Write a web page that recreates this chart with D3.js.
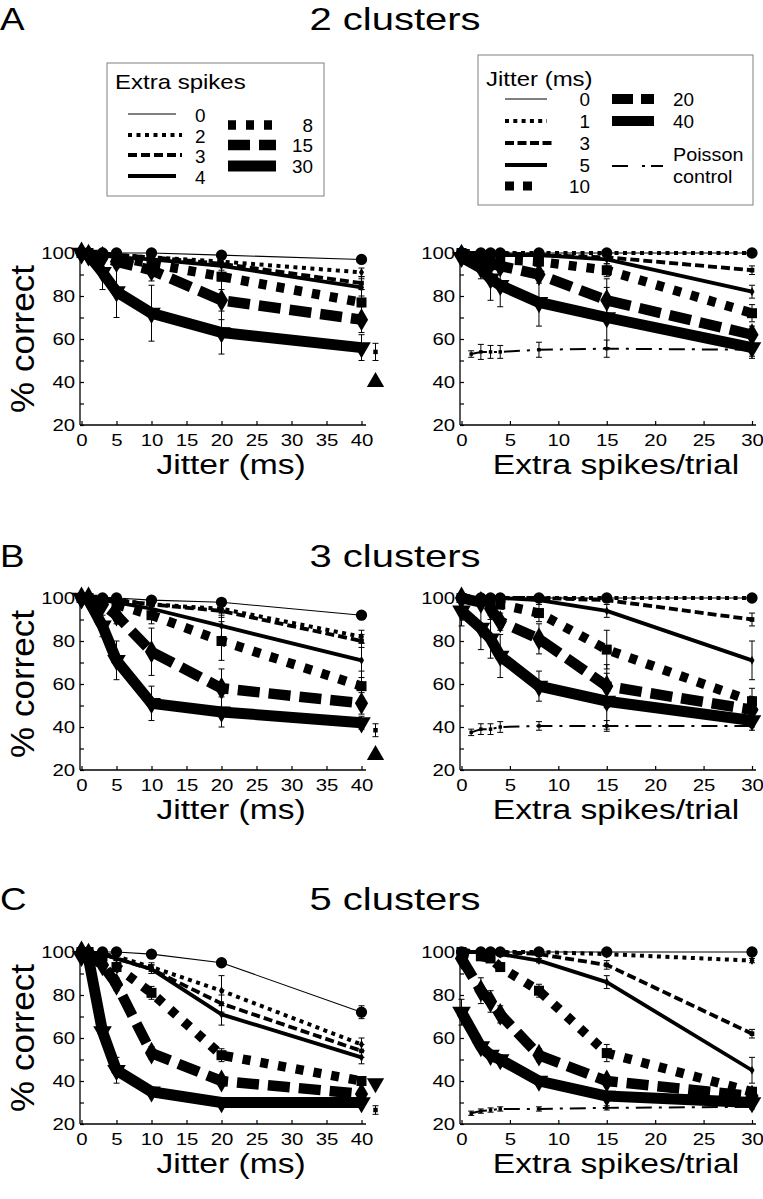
<!DOCTYPE html>
<html><head><meta charset="utf-8">
<script src="https://cdn.jsdelivr.net/npm/d3@7"></script>
<style>body{margin:0;background:#fff} svg{display:block}</style>
</head><body>
<svg id="c" width="763" height="1199"></svg>
<script>
// ---------------- DATA ----------------
const jitterX = [0, 1, 3, 5, 10, 20, 40];
const spikesX = [0, 2, 3, 4, 8, 15, 30];
const poissonX = [1, 2, 3, 4, 8, 15, 30];
const extraSpikeLevels = ["0", "2", "3", "4", "8", "15", "30"];
const jitterLevels = ["0", "1", "3", "5", "10", "20", "40"];
const panelLetters = ["A", "B", "C"];
const panelTitles = ["2 clusters", "3 clusters", "5 clusters"];
const jitterTicks = [0, 5, 10, 15, 20, 25, 30, 35, 40];
const spikeTicks = [0, 5, 10, 15, 20, 25, 30];
const yTicks = [20, 30, 40, 50, 60, 70, 80, 90, 100];

// A: 2 clusters — % correct vs jitter, one row per extra-spike level
const A_left = [
  [100, 100, 100, 100, 100, 99, 97],
  [100, 100, 100, 99, 98, 96, 91],
  [100, 100, 99, 99, 98, 95, 86],
  [100, 100, 99, 98, 97, 94, 84],
  [100, 100, 99, 98, 95, 89, 77],
  [100, 99, 98, 96, 92, 78, 69],
  [100, 99, 91, 82, 72, 63, 56]
];
const A_left_err = [
  [0, 0, 0, 0, 0, 1, 1],
  [0, 0, 0, 1, 1, 2, 2],
  [0, 0, 1, 1, 2, 3, 3],
  [0, 0, 1, 1, 2, 3, 4],
  [0, 0, 1, 2, 3, 6, 6],
  [0, 0, 2, 3, 5, 9, 6],
  [0, 1, 8, 12, 13, 10, 6]
];
// A: % correct vs extra spikes, one row per jitter level
const A_right = [
  [100, 100, 100, 100, 100, 100, 100],
  [100, 100, 100, 100, 100, 100, 100],
  [100, 100, 100, 100, 99, 98, 92],
  [100, 100, 99, 99, 99, 97, 82],
  [100, 99, 98, 97, 96, 92, 72],
  [99, 97, 95, 94, 90, 78, 62],
  [98, 93, 88, 85, 77, 70, 56]
];
const A_right_err = [
  [0, 0, 0, 0, 0, 0, 0],
  [0, 0, 0, 0, 0, 0, 0],
  [0, 0, 0, 0, 1, 1, 2],
  [0, 0, 1, 1, 1, 2, 3],
  [0, 1, 1, 2, 2, 3, 4],
  [0, 2, 3, 3, 4, 10, 4],
  [1, 5, 10, 10, 11, 14, 5]
];
const A_poisson = [53, 54, 54, 54, 55, 55.5, 55];
const A_poisson_err = [1.5, 3.5, 3, 3, 3.5, 4, 3];

// B: 3 clusters
const B_left = [
  [100, 100, 100, 100, 99, 98, 92],
  [100, 100, 100, 99, 97, 95, 82],
  [100, 100, 100, 99, 97, 94, 80],
  [100, 100, 99, 98, 95, 87, 71],
  [100, 100, 99, 97, 92, 80, 59],
  [100, 100, 97, 92, 75, 58, 51],
  [100, 99, 87, 71, 51, 47, 42]
];
const B_left_err = [
  [0, 0, 0, 0, 1, 1, 1],
  [0, 0, 0, 1, 2, 3, 3],
  [0, 0, 0, 1, 2, 3, 3],
  [0, 0, 1, 1, 3, 6, 8],
  [0, 0, 1, 2, 4, 9, 7],
  [0, 0, 2, 4, 11, 9, 5],
  [0, 1, 5, 9, 8, 7, 3]
];
const B_right = [
  [100, 100, 100, 100, 100, 100, 100],
  [100, 100, 100, 100, 100, 100, 100],
  [100, 100, 100, 100, 100, 99, 90],
  [100, 100, 100, 100, 99, 94, 71],
  [100, 99, 98, 97, 93, 76, 52],
  [100, 98, 95, 89, 81, 59, 48],
  [94, 86, 81, 73, 59, 52, 43]
];
const B_right_err = [
  [0, 0, 0, 0, 0, 0, 0],
  [0, 0, 0, 0, 0, 0, 0],
  [0, 0, 0, 0, 0, 1, 3],
  [0, 0, 0, 0, 1, 3, 9],
  [0, 1, 1, 2, 4, 9, 6],
  [0, 2, 3, 4, 7, 10, 6],
  [7, 10, 9, 10, 7, 13, 3]
];
const B_poisson = [37.5, 39, 39, 40, 40.5, 40.5, 40.5];
const B_poisson_err = [1.5, 2.5, 2.5, 2.5, 2, 2.5, 2];

// C: 5 clusters
const C_left = [
  [100, 100, 100, 100, 99, 95, 72],
  [100, 100, 99, 98, 93, 82, 57],
  [100, 100, 99, 97, 92, 76, 54],
  [100, 100, 99, 97, 92, 71, 51],
  [100, 100, 98, 93, 81, 52, 40],
  [100, 99, 94, 85, 53, 40, 34],
  [98, 97, 63, 45, 35, 30, 30]
];
const C_left_err = [
  [0, 0, 0, 0, 1, 1, 3],
  [0, 0, 0, 1, 2, 7, 3],
  [0, 0, 0, 1, 2, 4, 3],
  [0, 0, 0, 1, 2, 5, 3],
  [0, 0, 1, 2, 3, 3, 2],
  [0, 0, 2, 3, 3, 2, 2],
  [1, 1, 3, 6, 2, 1, 1]
];
const C_right = [
  [100, 100, 100, 100, 100, 100, 100],
  [100, 100, 100, 100, 100, 99, 96],
  [100, 100, 100, 100, 99, 94, 62],
  [100, 100, 100, 99, 96, 86, 45],
  [100, 98, 97, 93, 82, 53, 35],
  [97, 82, 77, 71, 52, 40, 33],
  [72, 56, 52, 50, 40, 33, 30]
];
const C_right_err = [
  [0, 0, 0, 0, 0, 0, 0],
  [0, 0, 0, 0, 0, 0, 1],
  [0, 0, 0, 0, 1, 2, 2],
  [0, 0, 0, 0, 1, 3, 6],
  [0, 1, 1, 1, 3, 4, 2],
  [1, 6, 5, 4, 3, 2, 2],
  [6, 2, 2, 2, 2, 1, 1]
];
const C_poisson = [25, 26, 26.5, 27, 27, 27.5, 28];
const C_poisson_err = [1, 1, 1, 1, 1, 1, 1];

// markers drawn just beyond the jitter axis (x = 42)
const sideX = 42;
const sidePoisson = [54, 38.5, 26.5];
const sidePoissonErr = [4, 3, 2];
const sideTriangle = [40, 27, 39];
const sideTriangleDir = ["up", "up", "down"];

// ---------------- DRAWING ----------------
const FONT = "'Liberation Sans', Arial, Helvetica, sans-serif";
const svg = d3.select("#c");

const panels = [
  { left: A_left, leftErr: A_left_err, right: A_right, rightErr: A_right_err, pois: A_poisson, poisErr: A_poisson_err },
  { left: B_left, leftErr: B_left_err, right: B_right, rightErr: B_right_err, pois: B_poisson, poisErr: B_poisson_err },
  { left: C_left, leftErr: C_left_err, right: C_right, rightErr: C_right_err, pois: C_poisson, poisErr: C_poisson_err }
];
const rows = [
  { yTop: 253, yBot: 425, titleY: 30 },
  { yTop: 598, yBot: 770, titleY: 567 },
  { yTop: 952, yBot: 1124, titleY: 910 }
];

// line styles (index aligned with level arrays)
const styles = [
  { w: 1.1, dash: null, marker: "circle", ms: 100 },
  { w: 4, dash: "4,4.5", marker: "diamond", ms: 22 },
  { w: 3.8, dash: "9,4", marker: "square", ms: 22 },
  { w: 3.8, dash: null, marker: "diamond", ms: 22 },
  { w: 9.5, dash: "8,10", marker: "square", ms: 100 },
  { w: 10.5, dash: "22,9", marker: "diamond", ms: 150 },
  { w: 11, dash: null, marker: "triDown", ms: 150 }
];
const poissonStyle = { w: 2, dash: "16,7,3,7" };

function T(parent, x, y, s, o) {
  let tr = `translate(${x},${y})`;
  if (o.rot) tr += ` rotate(${o.rot})`;
  tr += ` scale(${o.sx || 1},${o.sy || 1})`;
  return parent.append("text")
    .attr("transform", tr)
    .attr("text-anchor", o.anchor || "start")
    .attr("font-family", FONT)
    .attr("font-size", o.size)
    .attr("fill", "#000")
    .text(s);
}

function marker(g, type, cx, cy, size) {
  let sym = d3.symbolCircle, rot = "";
  if (type === "square") sym = d3.symbolSquare;
  if (type === "diamond") sym = d3.symbolDiamond;
  if (type === "triUp") sym = d3.symbolTriangle;
  if (type === "triDown") { sym = d3.symbolTriangle; rot = " rotate(180)"; }
  g.append("path")
    .attr("d", d3.symbol(sym, size)())
    .attr("transform", `translate(${cx},${cy})${rot}`)
    .attr("fill", "#000");
}

function errBar(g, cx, y, v, e) {
  if (!e) return;
  const y1 = y(v - e), y2 = y(v + e);
  g.append("line").attr("x1", cx).attr("x2", cx).attr("y1", y1).attr("y2", y2)
    .attr("stroke", "#000").attr("stroke-width", 1);
  [y1, y2].forEach(yy => g.append("line").attr("x1", cx - 3).attr("x2", cx + 3)
    .attr("y1", yy).attr("y2", yy).attr("stroke", "#000").attr("stroke-width", 1));
}

function drawSeries(g, x, y, xs, vals, errs, st) {
  const line = d3.line().x((d, i) => x(xs[i])).y(d => y(d));
  g.append("path").attr("d", line(vals))
    .attr("fill", "none").attr("stroke", "#000")
    .attr("stroke-width", st.w)
    .attr("stroke-dasharray", st.dash)
    .attr("stroke-linejoin", st.dash ? "miter" : "round");
  vals.forEach((v, i) => errBar(g, x(xs[i]), y, v, errs[i]));
  if (st.marker) vals.forEach((v, i) => marker(g, st.marker, x(xs[i]), y(v), st.ms));
}

function drawAxes(g, x, y, ticks, axisX, xEnd, yBot, yTop) {
  const ax = g.append("g").attr("transform", `translate(0,${yBot})`)
    .call(d3.axisBottom(x).tickValues(ticks).tickSize(-4).tickPadding(9).tickSizeOuter(0));
  ax.select(".domain").remove();
  ax.selectAll("text").attr("font-size", 17).attr("font-family", FONT).attr("fill", "#000")
    .attr("transform", "scale(1.2,1)");
  ax.selectAll("line").attr("stroke-width", 1.2);
  const ay = g.append("g").attr("transform", `translate(${axisX},0)`)
    .call(d3.axisLeft(y).tickValues(yTicks).tickSize(-4).tickPadding(4).tickSizeOuter(0)
      .tickFormat(d => d % 20 === 0 ? d : ""));
  ay.select(".domain").remove();
  ay.selectAll("text").attr("font-size", 17).attr("font-family", FONT).attr("fill", "#000")
    .attr("transform", "scale(1.2,1)");
  ay.selectAll("line").attr("stroke-width", 1.2);
  g.append("line").attr("x1", axisX).attr("x2", xEnd).attr("y1", yBot).attr("y2", yBot)
    .attr("stroke", "#000").attr("stroke-width", 1.3);
  g.append("line").attr("x1", axisX).attr("x2", axisX).attr("y1", yBot).attr("y2", yTop - 3)
    .attr("stroke", "#000").attr("stroke-width", 1.3);
}

rows.forEach((r, ri) => {
  const P = panels[ri];
  const y = d3.scaleLinear().domain([20, 100]).range([r.yBot, r.yTop]);

  // titles
  T(svg, 0, r.titleY, panelLetters[ri], { size: 32, sx: 1.15 });
  T(svg, 395, r.titleY, panelTitles[ri], { size: 32, sx: 1.25, anchor: "middle" });

  // ---- left panel: vs jitter
  const gl = svg.append("g");
  const xl = d3.scaleLinear().domain([0, 40]).range([81.5, 361.5]);
  drawAxes(gl, xl, y, jitterTicks, 80, 366, r.yBot, r.yTop);
  for (let s = styles.length - 1; s >= 0; s--) drawSeries(gl, xl, y, jitterX, P.left[s], P.leftErr[s], styles[s]);
  errBar(gl, xl(sideX), y, sidePoisson[ri], sidePoissonErr[ri]);
  marker(gl, "square", xl(sideX), y(sidePoisson[ri]), 20);
  marker(gl, sideTriangleDir[ri] === "up" ? "triUp" : "triDown", xl(sideX), y(sideTriangle[ri]), 130);
  T(svg, 231, r.yBot + 49, "Jitter (ms)", { size: 28, sx: 1.2, anchor: "middle" });
  T(svg, 34, (r.yTop + r.yBot) / 2, "% correct", { size: 35, rot: -90, sy: 0.95, anchor: "middle" });

  // ---- right panel: vs extra spikes
  const gr = svg.append("g");
  const xr = d3.scaleLinear().domain([0, 30]).range([461.5, 752]);
  drawAxes(gr, xr, y, spikeTicks, 460, 756, r.yBot, r.yTop);
  // Poisson control
  const pl = d3.line().x((d, i) => xr(poissonX[i])).y(d => y(d));
  gr.append("path").attr("d", pl(P.pois)).attr("fill", "none").attr("stroke", "#000")
    .attr("stroke-width", poissonStyle.w).attr("stroke-dasharray", poissonStyle.dash);
  P.pois.forEach((v, i) => { errBar(gr, xr(poissonX[i]), y, v, P.poisErr[i]); marker(gr, "square", xr(poissonX[i]), y(v), 12); });
  for (let s = styles.length - 1; s >= 0; s--) drawSeries(gr, xr, y, spikesX, P.right[s], P.rightErr[s], styles[s]);
  T(svg, 616, r.yBot + 49, "Extra spikes/trial", { size: 28, sx: 1.2, anchor: "middle" });
});

// ---------------- LEGENDS ----------------
function legLine(g, x1, x2, yy, st) {
  g.append("line").attr("x1", x1).attr("x2", x2).attr("y1", yy).attr("y2", yy)
    .attr("stroke", "#000").attr("stroke-width", st.w).attr("stroke-dasharray", st.dash);
}
const lg1 = svg.append("g");
lg1.append("rect").attr("x", 107).attr("y", 63).attr("width", 217).attr("height", 133)
  .attr("fill", "none").attr("stroke", "#808080").attr("stroke-width", 1);
T(lg1, 115, 89, "Extra spikes", { size: 20, sx: 1.2 });
const lg1Col1Y = [114, 135, 155, 176];
const lg1Col1X2 = [176, 182, 182, 176];
[0, 1, 2, 3].forEach((k, i) => {
  legLine(lg1, 128, lg1Col1X2[i], lg1Col1Y[i], styles[k]);
  T(lg1, 195, lg1Col1Y[i] + 8, extraSpikeLevels[k], { size: 18, sx: 1.05 });
});
const lg1Col2Y = [125, 145, 166];
[4, 5, 6].forEach((k, i) => {
  legLine(lg1, 228, 276, lg1Col2Y[i], styles[k]);
  T(lg1, 313, lg1Col2Y[i] + 7, extraSpikeLevels[k], { size: 18, sx: 1.05, anchor: "end" });
});

const lg2 = svg.append("g");
lg2.append("rect").attr("x", 478).attr("y", 55).attr("width", 275).attr("height", 150)
  .attr("fill", "none").attr("stroke", "#808080").attr("stroke-width", 1);
T(lg2, 486, 86, "Jitter (ms)", { size: 20, sx: 1.2 });
const lg2Col1Y = [99, 121, 143, 165, 186];
const lg2Col1X2 = [547, 547, 552, 547, 533];
const lg2Styles = [
  { w: 1.1, dash: null }, { w: 3.8, dash: "4,4.3" }, { w: 3.8, dash: "9,3.5" },
  { w: 4, dash: null }, { w: 9, dash: "9,9" }, { w: 10, dash: "21,8" }, { w: 10, dash: null }
];
[0, 1, 2, 3, 4].forEach((k, i) => {
  legLine(lg2, 505, lg2Col1X2[i], lg2Col1Y[i], lg2Styles[k]);
  T(lg2, 590, lg2Col1Y[i] + 7, jitterLevels[k], { size: 18, sx: 1.05, anchor: "end" });
});
const lg2Col2Y = [99, 121];
[5, 6].forEach((k, i) => {
  legLine(lg2, 612, 654, lg2Col2Y[i], lg2Styles[k]);
  T(lg2, 673, lg2Col2Y[i] + 7, jitterLevels[k], { size: 18, sx: 1.05 });
});
legLine(lg2, 612, 663, 166, { w: 2, dash: "16,14,3,6" });
T(lg2, 673, 161, "Poisson", { size: 18, sx: 1.1 });
T(lg2, 673, 183, "control", { size: 18, sx: 1.1 });
</script>
</body></html>
